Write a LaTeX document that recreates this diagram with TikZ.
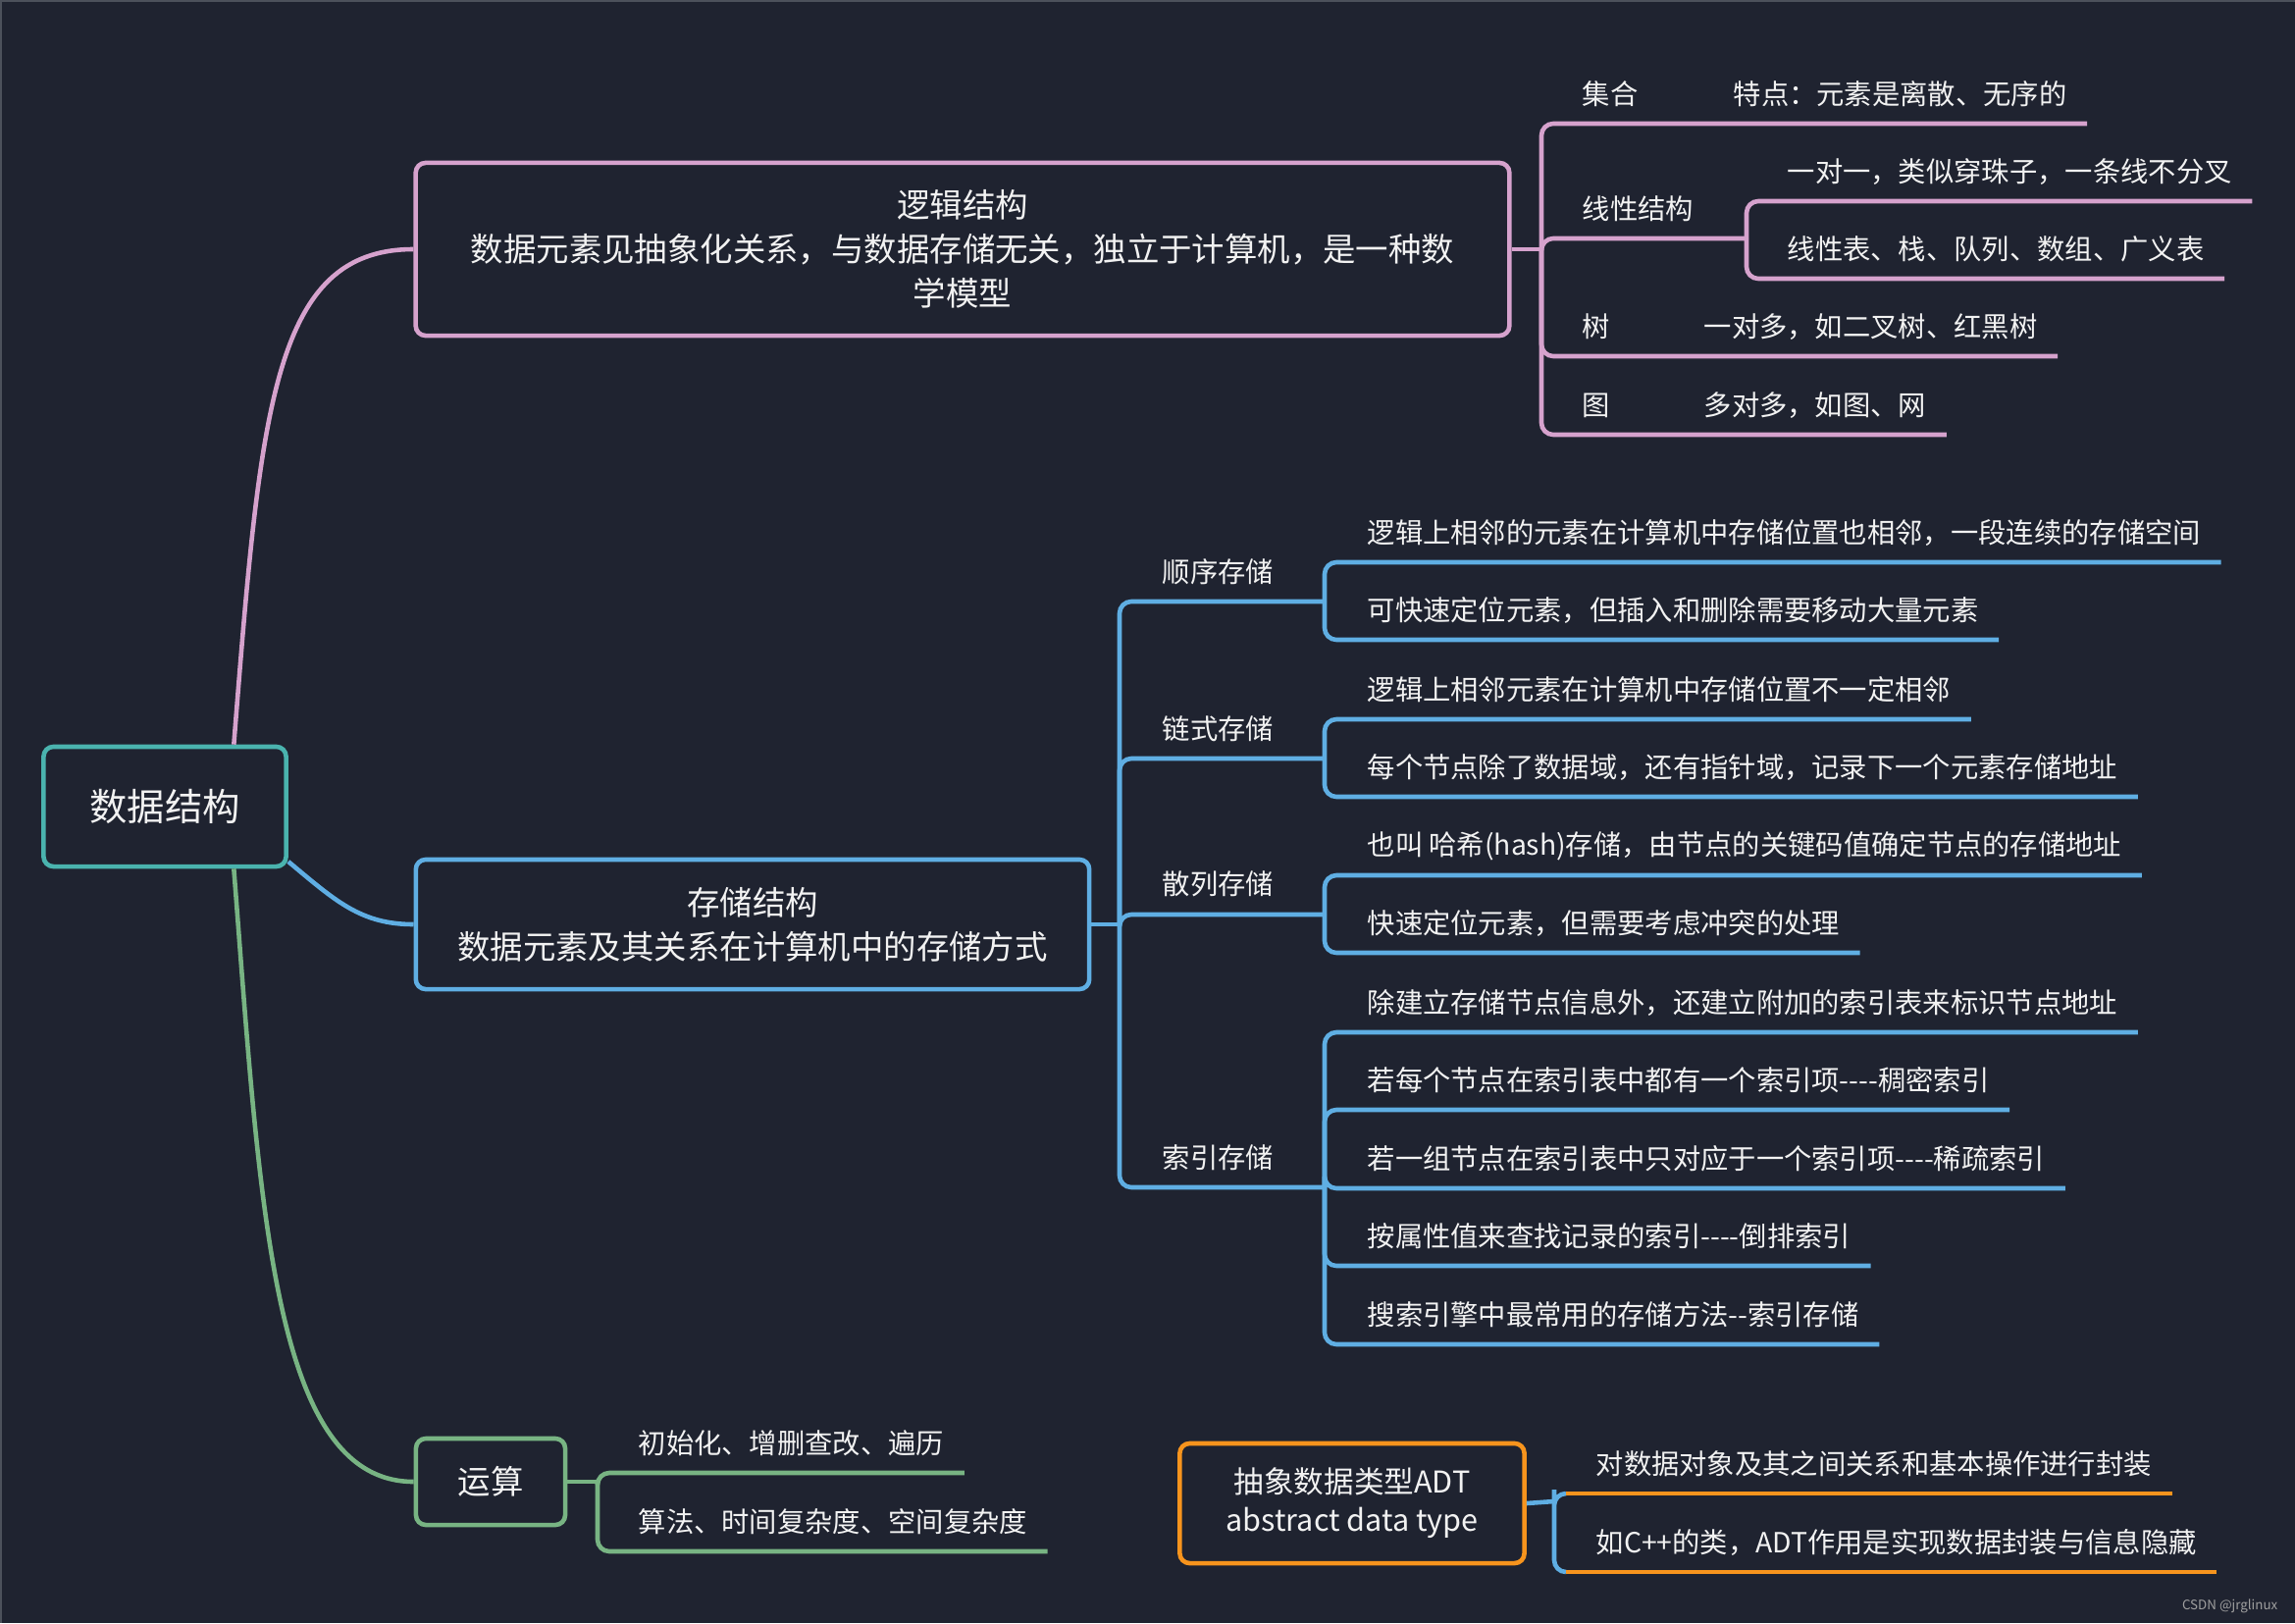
\documentclass[tikz,border=0pt]{standalone}
\usepackage{fontspec}
\setmainfont{Noto Sans CJK SC}[Ligatures=TeXOff]
\usetikzlibrary{calc}
\definecolor{bgdark}{HTML}{1F2330}
\definecolor{edgegrey}{HTML}{4C515B}
\definecolor{leaftext}{HTML}{F2F2F2}
\definecolor{pinkline}{HTML}{D6A2CD}
\definecolor{blueline}{HTML}{5FAEE3}
\definecolor{greenline}{HTML}{78B483}
\definecolor{tealline}{HTML}{4AB3AE}
\definecolor{orangeline}{HTML}{F7941D}
\tikzset{
  topic/.style={draw=#1, line width=1.3pt, rounded corners=0.1cm, fill=bgdark,
    text=leaftext, align=center, inner sep=0pt},
  leaf/.style={anchor=west, inner sep=0pt, text=leaftext,
    font=\fontsize{8.05pt}{10pt}\selectfont},
  branch/.style={draw=#1, line width=1.3pt, rounded corners=0.12cm},
}
\newcommand{\twig}[3]{%
  \draw[branch=#1] (#2) |- ($(#3.east)+(20,30)$);%
}

\begin{document}
\begin{tikzpicture}[x=0.01cm, y=-0.01cm]
    \fill[bgdark] (0,0) rectangle (2339,1654);
    \useasboundingbox (0,0) rectangle (2339,1654);
    \draw[edgegrey, line width=1pt] (0,1654) -- (0,0) -- (2339,0);

    % main topics
    \node[topic=tealline, minimum width=2.47cm, minimum height=1.22cm,
      font=\fontsize{10.9pt}{13pt}\selectfont] (root) at (168,822) {数据结构};
    \node[topic=pinkline, minimum width=11.14cm, minimum height=1.76cm,
      font=\fontsize{9.5pt}{12.8pt}\selectfont] (logic) at (981,254)
      {逻辑结构\\数据元素见抽象化关系，与数据存储无关，独立于计算机，是一种数\\学模型};
    \node[topic=blueline, minimum width=6.86cm, minimum height=1.32cm,
      font=\fontsize{9.5pt}{12.8pt}\selectfont] (storage) at (767,942)
      {存储结构\\数据元素及其关系在计算机中的存储方式};
    \node[topic=greenline, minimum width=1.52cm, minimum height=0.88cm,
      font=\fontsize{9.5pt}{12pt}\selectfont] (ops) at (500,1510) {运算};
    \node[topic=orangeline, minimum width=3.51cm, minimum height=1.22cm,
      font=\fontsize{8.7pt}{11.1pt}\selectfont] (adt) at (1378,1532)
      {抽象数据类型ADT\\abstract data type};

    \draw[pinkline, line width=1.3pt] (root.42) .. controls +(27,-340) and +(-144,0) .. (logic.west);
    \draw[blueline, line width=1.3pt] (root.-24) .. controls +(48,40) and +(-54,0) .. (storage.west);
    \draw[greenline, line width=1.3pt] (root.-42) .. controls +(27,347) and +(-144,0) .. (ops.west);

    % logic
    \coordinate (lgb) at (1571,254);
    \coordinate (linb) at (1780,243);
    \draw[branch=pinkline] (logic.east) -- (lgb);
    \node[leaf] (set) at (1612,96) {集合};
    \node[leaf] (setnote) at (1766,96) {特点：元素是离散、无序的};
    \node[leaf] (linear) at (1612,213) {线性结构};
    \node[leaf] (lin1) at (1821,175) {一对一，类似穿珠子，一条线不分叉};
    \node[leaf] (lin2) at (1821,254) {线性表、栈、队列、数组、广义表};
    \node[leaf] (tree) at (1612,333) {树};
    \node[leaf] (treenote) at (1736,333) {一对多，如二叉树、红黑树};
    \node[leaf] (graph) at (1612,413) {图};
    \node[leaf] (graphnote) at (1736,413) {多对多，如图、网};
    \twig{pinkline}{lgb}{setnote}
    \draw[branch=pinkline] (lgb) |- (linb);
    \twig{pinkline}{linb}{lin1}
    \twig{pinkline}{linb}{lin2}
    \twig{pinkline}{lgb}{treenote}
    \twig{pinkline}{lgb}{graphnote}

    % storage
    \coordinate (sb) at (1141,942);
    \coordinate (seqb) at (1350,613);
    \coordinate (linkb) at (1350,773);
    \coordinate (hashb) at (1350,932);
    \coordinate (idxb) at (1350,1210);
    \draw[branch=blueline] (storage.east) -- (sb);
    \foreach \b in {seqb,linkb,hashb,idxb}
      {\draw[branch=blueline] (sb) |- (\b);}
    \node[leaf] (seq) at (1184,583) {顺序存储};
    \node[leaf] (seq1) at (1393,543) {逻辑上相邻的元素在计算机中存储位置也相邻，一段连续的存储空间};
    \node[leaf] (seq2) at (1393,622) {可快速定位元素，但插入和删除需要移动大量元素};
    \node[leaf] (link) at (1184,743) {链式存储};
    \node[leaf] (link1) at (1393,703) {逻辑上相邻元素在计算机中存储位置不一定相邻};
    \node[leaf] (link2) at (1393,782) {每个节点除了数据域，还有指针域，记录下一个元素存储地址};
    \node[leaf] (hash) at (1184,901) {散列存储};
    \node[leaf] (hash1) at (1393,862) {也叫 哈希(hash)存储，由节点的关键码值确定节点的存储地址};
    \node[leaf] (hash2) at (1393,941) {快速定位元素，但需要考虑冲突的处理};
    \node[leaf] (idx) at (1184,1180) {索引存储};
    \node[leaf] (idx1) at (1393,1022) {除建立存储节点信息外，还建立附加的索引表来标识节点地址};
    \node[leaf] (idx2) at (1393,1101) {若每个节点在索引表中都有一个索引项----稠密索引};
    \node[leaf] (idx3) at (1393,1181) {若一组节点在索引表中只对应于一个索引项----稀疏索引};
    \node[leaf] (idx4) at (1393,1260) {按属性值来查找记录的索引----倒排索引};
    \node[leaf] (idx5) at (1393,1340) {搜索引擎中最常用的存储方法--索引存储};
    \twig{blueline}{seqb}{seq1}
    \twig{blueline}{seqb}{seq2}
    \twig{blueline}{linkb}{link1}
    \twig{blueline}{linkb}{link2}
    \twig{blueline}{hashb}{hash1}
    \twig{blueline}{hashb}{hash2}
    \foreach \n in {idx1,idx2,idx3,idx4,idx5}
      {\twig{blueline}{idxb}{\n}}

    % ops
    \coordinate (opb) at (609,1510);
    \draw[branch=greenline] (ops.east) -- (opb);
    \node[leaf] (ops1) at (650,1471) {初始化、增删查改、遍历};
    \node[leaf] (ops2) at (650,1551) {算法、时间复杂度、空间复杂度};
    \twig{greenline}{opb}{ops1}
    \twig{greenline}{opb}{ops2}

    % ADT
    \coordinate (adtb) at (1584,1530);
    \coordinate (adt1s) at (1596,1522);
    \coordinate (adt2s) at (1596,1602);
    \node[leaf] (adt1) at (1626,1492) {对数据对象及其之间关系和基本操作进行封装};
    \node[leaf] (adt2) at (1626,1572) {如C++的类，ADT作用是实现数据封装与信息隐藏};
    \draw[branch=blueline] (adt.east) -- (adtb);
    \draw[branch=blueline] (adt1s) -| (adtb) |- (adt2s);
    \draw[branch=orangeline] (adt1s) -- ($(adt1.east)+(20,30)$);
    \draw[branch=orangeline] (adt2s) -- ($(adt2.east)+(20,30)$);

    \node[anchor=east, inner sep=0pt, text=gray!75, font=\fontsize{3.8pt}{4.5pt}\selectfont]
      (mark) at (2322,1637) {CSDN @jrglinux};
\end{tikzpicture}
\end{document}
